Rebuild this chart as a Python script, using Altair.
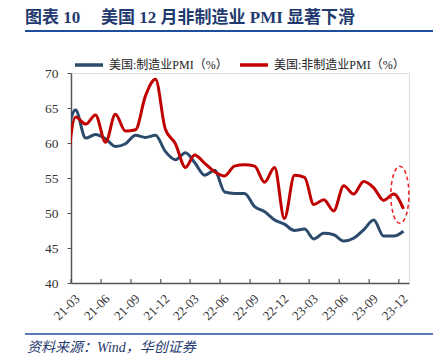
import altair as alt
import pandas as pd

# ---- data (monthly) ----
months = [
    "2021/02", "2021/03", "2021/04", "2021/05", "2021/06", "2021/07", "2021/08",
    "2021/09", "2021/10", "2021/11", "2021/12",
    "2022/01", "2022/02", "2022/03", "2022/04", "2022/05", "2022/06", "2022/07",
    "2022/08", "2022/09", "2022/10", "2022/11", "2022/12",
    "2023/01", "2023/02", "2023/03", "2023/04", "2023/05", "2023/06", "2023/07",
    "2023/08", "2023/09", "2023/10", "2023/11", "2023/12",
]
manufacturing = [
    60.8, 64.7, 60.7, 61.2, 60.6, 59.5, 59.9, 61.1, 60.8, 61.1, 58.8,
    57.6, 58.6, 57.2, 55.4, 56.1, 53.0, 52.8, 52.8, 50.9, 50.2, 49.0, 48.4,
    47.5, 47.7, 46.3, 47.1, 46.9, 46.0, 46.4, 47.6, 49.0, 46.7, 46.7, 47.4,
]
non_manufacturing = [
    55.3, 63.7, 62.7, 64.0, 60.1, 64.1, 61.7, 61.9, 66.7, 69.1, 62.0,
    59.9, 56.5, 58.3, 57.1, 55.9, 55.3, 56.7, 56.9, 56.7, 54.4, 56.5, 49.2,
    55.4, 55.1, 51.2, 51.9, 50.3, 53.9, 52.7, 54.5, 53.6, 51.8, 52.7, 50.6,
]
series_names = ["美国:制造业PMI（%）", "美国:非制造业PMI（%）"]
series_colors = ["#2b4a6c", "#c00000"]
tick_months = [
    "2021/03/01", "2021/06/01", "2021/09/01", "2021/12/01",
    "2022/03/01", "2022/06/01", "2022/09/01", "2022/12/01",
    "2023/03/01", "2023/06/01", "2023/09/01", "2023/12/01",
]
y_ticks = [40, 45, 50, 55, 60, 65, 70]
title_label = "图表 10"
title_text = "美国 12 月非制造业 PMI 显著下滑"
source_text = "资料来源：Wind，华创证券"
highlight_date = ["2023/12/04"]
highlight_value = [52.6]

# ---- tables ----
rows = []
for m, a, b in zip(months, manufacturing, non_manufacturing):
    rows.append({"date": m + "/15", "series": series_names[0], "value": a})
    rows.append({"date": m + "/15", "series": series_names[1], "value": b})
df = pd.DataFrame(rows)
ticks_df = pd.DataFrame({"date": tick_months, "value": [40] * len(tick_months),
                         "y1": [40.57] * len(tick_months)})
hl_df = pd.DataFrame({"date": highlight_date, "value": highlight_value})
one = pd.DataFrame({"a": [0]})

SERIF = "Liberation Serif, Noto Sans CJK SC"
NAVY = "#1f3a6e"

x_scale = alt.Scale(domain=[alt.DateTime(year=2021, month=3, date=1),
                            alt.DateTime(year=2024, month=1, date=1)])
y_scale = alt.Scale(domain=[40, 70], nice=False, zero=False)

x_axis = alt.Axis(
    values=[alt.DateTime(year=int(t[:4]), month=int(t[5:7]), date=1) for t in tick_months],
    labelExpr="timeFormat(datum.value, '%y-%m')",
    labelAngle=315, ticks=False, grid=False, title=None, labelOverlap=False,
    labelFont=SERIF, labelFontSize=13, labelColor="#333333", labelPadding=9,
    labelOffset=2,
    domainColor="#555555", domainWidth=1.5,
)
y_axis = alt.Axis(
    values=y_ticks, grid=False, title=None, tickSize=4, tickColor="#555555",
    labelOverlap=False,
    labelFont=SERIF, labelFontSize=13.5, labelColor="#333333", labelPadding=9,
    domainColor="#555555", domainWidth=1.5,
)

X = alt.X("date:T", scale=x_scale, axis=x_axis)
Y = alt.Y("value:Q", scale=y_scale, axis=y_axis)

lines = alt.Chart(df).mark_line(strokeWidth=3, interpolate="monotone", clip=True).encode(
    x=X, y=Y,
    color=alt.Color("series:N",
                    scale=alt.Scale(domain=series_names, range=series_colors),
                    sort=series_names,
                    legend=alt.Legend(orient="none", legendX=2, legendY=-24,
                                      direction="horizontal", title=None,
                                      symbolType="stroke", symbolSize=784,
                                      symbolStrokeWidth=3.5, labelOffset=4,
                                      columnPadding=5,
                                      labelFont=SERIF, labelFontSize=12,
                                      labelColor="#222222")),
)

xticks = alt.Chart(ticks_df).mark_rule(color="#555555", strokeWidth=1.2).encode(
    x=X, y=Y, y2="y1:Q",
)

ellipse = alt.Chart(hl_df).mark_point(
    shape="M-0.316,0A0.316,1,0,1,0,0.316,0A0.316,1,0,1,0,-0.316,0Z",
    size=3249, filled=False, color="#ee2222", strokeWidth=1.5,
    strokeDash=[4, 3], opacity=1,
).encode(x=X, y=Y)

title1 = alt.Chart(one).mark_text(
    text=title_label, align="left", baseline="middle", font=SERIF,
    fontSize=17, fontWeight="bold", color=NAVY,
).encode(x=alt.value(-46), y=alt.value(-55.5))
title2 = alt.Chart(one).mark_text(
    text=title_text, align="left", baseline="middle", font=SERIF,
    fontSize=17, fontWeight="bold", color=NAVY,
).encode(x=alt.value(30), y=alt.value(-55.5))

title_rule = alt.Chart(one).mark_rule(color="#1f4e9c", strokeWidth=2).encode(
    x=alt.value(-46), x2=alt.value(366), y=alt.value(-42))
bottom_rule = alt.Chart(one).mark_rule(color="#1f4e9c", strokeWidth=1.5).encode(
    x=alt.value(-46), x2=alt.value(366), y=alt.value(261))
left_mark1 = alt.Chart(one).mark_rule(color="#1f3a6e", strokeWidth=1.5).encode(
    x=alt.value(-71), x2=alt.value(-69), y=alt.value(-42))
left_mark2 = alt.Chart(one).mark_rule(color="#1f3a6e", strokeWidth=1.5).encode(
    x=alt.value(-71), x2=alt.value(-69), y=alt.value(261))

source = alt.Chart(one).mark_text(
    text=source_text, align="left", baseline="middle", font=SERIF,
    fontSize=14, fontStyle="italic", color=NAVY,
).encode(x=alt.value(-44), y=alt.value(275))

chart = alt.layer(
    lines, xticks, ellipse, title1, title2, title_rule, bottom_rule, left_mark1,
    left_mark2, source,
).properties(
    width=338, height=210,
    autosize=alt.AutoSizeParams(type="none"),
    padding={"left": 63, "top": 65, "right": 24, "bottom": 72},
).configure_view(stroke=None).configure(background="white")

chart.save("out.html", embed_options={"renderer": "svg", "actions": False})
